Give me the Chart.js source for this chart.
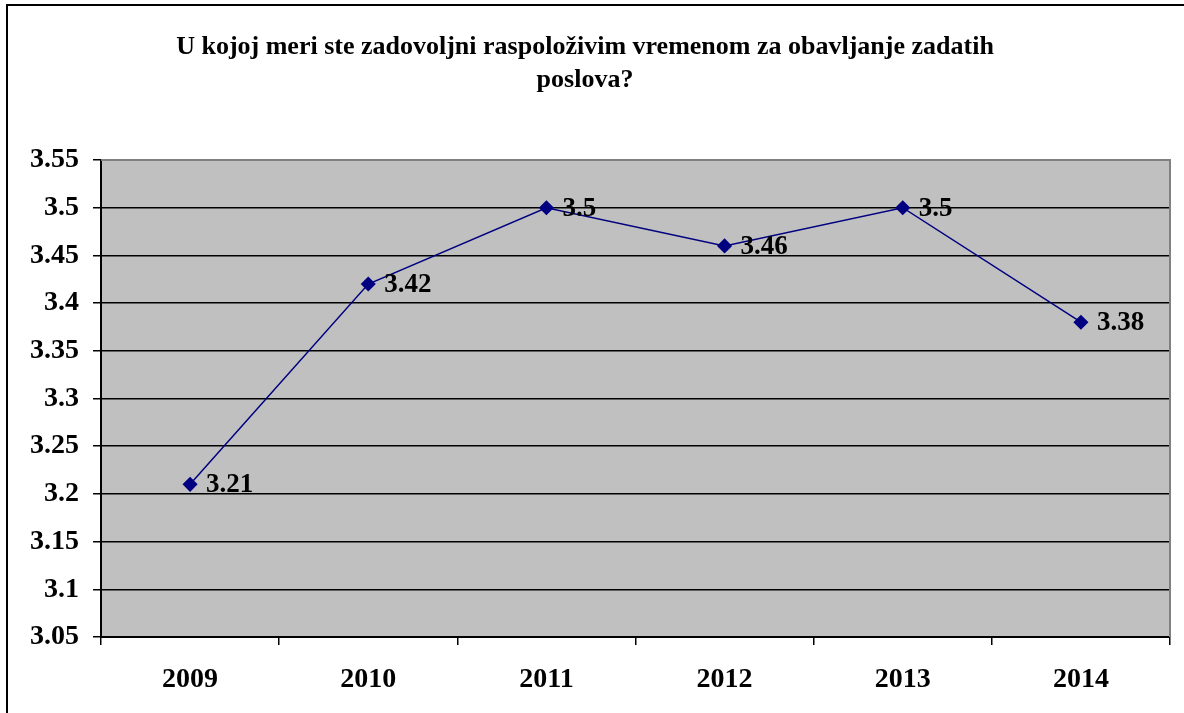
<!DOCTYPE html>
<html>
<head>
<meta charset="utf-8">
<script src="https://cdn.jsdelivr.net/npm/chart.js@4/dist/chart.umd.min.js"></script>
<style>
  html, body { margin: 0; padding: 0; background: #fff; }
  #wrap { width: 1184px; height: 713px; position: relative; }
</style>
</head>
<body>
<div id="wrap"><canvas id="grafik" width="1184" height="713"></canvas></div>
<script>
const godine = ['2009', '2010', '2011', '2012', '2013', '2014'];
const ocene = [3.21, 3.42, 3.5, 3.46, 3.5, 3.38];
const yTicks = [3.05, 3.1, 3.15, 3.2, 3.25, 3.3, 3.35, 3.4, 3.45, 3.5, 3.55];
const naslov = ['U kojoj meri ste zadovoljni raspoloživim vremenom za obavljanje zadatih', 'poslova?'];

const FONT = '"Liberation Serif", "Times New Roman", serif';

// siva pozadina + okvir slike
const pozadina = {
  id: 'pozadina',
  beforeDraw(chart) {
    const { ctx, chartArea: a } = chart;
    ctx.save();
    ctx.fillStyle = '#fff';
    ctx.fillRect(0, 0, chart.width, chart.height);
    ctx.fillStyle = '#C0C0C0';
    ctx.fillRect(a.left, a.top, a.right - a.left, a.bottom - a.top);
    ctx.strokeStyle = '#000';
    ctx.lineWidth = 2;
    ctx.beginPath();
    ctx.moveTo(7, chart.height);
    ctx.lineTo(7, 5);
    ctx.lineTo(chart.width, 5);
    ctx.stroke();
    ctx.restore();
  },
  afterDraw(chart) {
    const { ctx, chartArea: a } = chart;
    ctx.save();
    ctx.strokeStyle = '#808080';
    ctx.lineWidth = 2;
    ctx.beginPath();
    ctx.moveTo(a.left, a.top);
    ctx.lineTo(a.right, a.top);
    ctx.lineTo(a.right, a.bottom);
    ctx.stroke();
    ctx.restore();
  }
};

// vrednosti pored tacaka
const oznake = {
  id: 'oznake',
  afterDatasetsDraw(chart) {
    const { ctx } = chart;
    const meta = chart.getDatasetMeta(0);
    ctx.save();
    ctx.font = 'bold 27px ' + FONT;
    ctx.fillStyle = '#000';
    ctx.textAlign = 'left';
    ctx.textBaseline = 'middle';
    meta.data.forEach((p, i) => {
      ctx.fillText(String(ocene[i]), p.x + 16, p.y + 1);
    });
    ctx.restore();
  }
};

new Chart(document.getElementById('grafik'), {
  type: 'line',
  data: {
    labels: godine,
    datasets: [{
      data: ocene,
      borderColor: '#000080',
      backgroundColor: '#000080',
      borderWidth: 1.5,
      pointStyle: 'rectRot',
      pointRadius: 6.5,
      pointHoverRadius: 6.5,
      tension: 0
    }]
  },
  options: {
    responsive: false,
    animation: false,
    layout: { padding: { left: 0, right: 14, top: 0, bottom: 0 } },
    plugins: {
      legend: { display: false },
      tooltip: { enabled: false },
      title: {
        display: true,
        text: naslov,
        color: '#000',
        font: { family: FONT, size: 26, weight: 'bold', lineHeight: 1.27 },
        padding: { top: 31, bottom: 63 }
      }
    },
    scales: {
      x: {
        offset: true,
        grid: { offset: true, drawOnChartArea: false, color: '#000', lineWidth: 1.5, tickLength: 8 },
        border: { color: '#000', width: 2 },
        ticks: { color: '#000', font: { family: FONT, size: 28, weight: 'bold' }, padding: 18, maxRotation: 0 },
        afterFit(s) { s.height = 76; }
      },
      y: {
        min: 3.05,
        max: 3.55,
        afterBuildTicks(s) { s.ticks = yTicks.map(v => ({ value: v })); },
        grid: {
          color: c => (c.tick && c.tick.value === 3.55 ? '#808080' : '#000'),
          lineWidth: 1.5,
          tickLength: 8,
          tickColor: '#000'
        },
        border: { color: '#000', width: 2 },
        ticks: {
          color: '#000',
          font: { family: FONT, size: 28, weight: 'bold' },
          padding: 14,
          callback: v => String(parseFloat(Number(v).toFixed(2)))
        },
        afterFit(s) { s.width = 101; }
      }
    }
  },
  plugins: [pozadina, oznake]
});
</script>
</body>
</html>
